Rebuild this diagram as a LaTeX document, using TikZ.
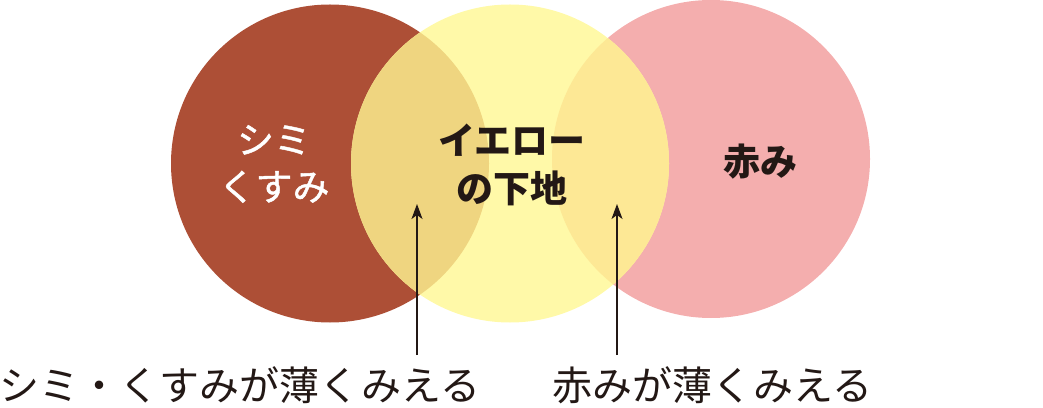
\documentclass[tikz,border=0pt]{standalone}
\usepackage{fontspec}
\setmainfont{Noto Sans CJK JP}
\newfontfamily\jpmedium{Noto Sans CJK JP}[FakeBold=1.2]
\usetikzlibrary{arrows.meta}
\definecolor{shimi}{HTML}{AD4F36}
\definecolor{yellowbase}{HTML}{FFF9A8}
\definecolor{akami}{HTML}{F4AEAE}
\definecolor{shimiyellow}{HTML}{EFD580}
\definecolor{akamiyellow}{HTML}{FDE895}
\definecolor{ink}{HTML}{231815}

\begin{document}
\begin{tikzpicture}
  [x=1pt,y=1pt,
   circlabel/.style={align=center,inner sep=0pt,font=\fontsize{37}{48}\selectfont\bfseries},
   sublabel/.style={inner sep=0pt,text=ink,font=\fontsize{40}{48}\selectfont},
   pointer/.style={draw=ink,line width=1.3pt,-{Stealth[length=15pt,width=11pt,inset=4pt]}}]
  \useasboundingbox (0,0) rectangle (1043,407);
  \coordinate (c1) at (330,243.5);
  \coordinate (c2) at (510,243.5);
  \coordinate (c3) at (711,248);

  \fill[shimi] (c1) circle (159pt);
  \fill[akami] (c3) circle (159pt);
  \fill[yellowbase] (c2) circle (159pt);
  \begin{scope}
    \clip (c1) circle (159pt);
    \fill[shimiyellow] (c2) circle (159pt);
  \end{scope}
  \begin{scope}
    \clip (c3) circle (159pt);
    \fill[akamiyellow] (c2) circle (159pt);
  \end{scope}

  \node (t1)[circlabel,text=white,font=\fontsize{37}{47}\selectfont\jpmedium] at (274,243) {シミ\\くすみ};
  \node (t2)[circlabel,text=ink]   at (512,242)   {イエロー\\の下地};
  \node (t3)[circlabel,text=ink]   at (760,245.5) {赤み};

  \node (s1)[sublabel] at (240,22) {シミ・くすみが薄くみえる};
  \node (s2)[sublabel] at (712.5,22) {赤みが薄くみえる};

  \coordinate (a1) at (417,52);
  \coordinate (b1) at (417,203);
  \coordinate (a2) at (617,52);
  \coordinate (b2) at (617,203);
  \foreach \from/\to in {a1/b1,a2/b2}
    \draw[pointer] (\from) -- (\to);
\end{tikzpicture}
\end{document}
